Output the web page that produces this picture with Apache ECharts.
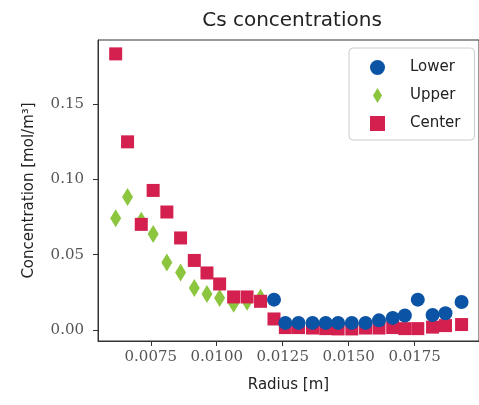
<!DOCTYPE html>
<html><head><meta charset="utf-8">
<script src="https://cdn.jsdelivr.net/npm/echarts@6.0.0/dist/echarts.min.js"></script>
<style>html,body{margin:0;padding:0;background:#fff}#c{width:479px;height:405px}</style>
</head><body><div id="c"></div>
<script>
// Radii (m)
const radiusInner = [0.00617, 0.00662, 0.00714, 0.00759, 0.00811, 0.00863, 0.00915, 0.00963, 0.01011, 0.01064, 0.01115, 0.01166, 0.01217];
const radiusOuter = [0.01217, 0.01260, 0.01310, 0.01363, 0.01413, 0.01460, 0.01512, 0.01564, 0.01615, 0.01667, 0.01713, 0.01762, 0.01818, 0.01867, 0.01928];
// Concentrations (mol/m^3)
const upperConc = [0.0741, 0.0883, 0.0725, 0.0637, 0.0448, 0.0382, 0.0279, 0.0239, 0.0213, 0.0175, 0.0188, 0.0215];
const centerInnerConc = [0.1831, 0.1248, 0.0701, 0.0926, 0.0783, 0.0611, 0.0462, 0.0379, 0.0306, 0.0220, 0.0220, 0.0191, 0.0074];
const centerOuterConc = [0.0017, 0.0017, 0.0014, 0.0010, 0.0008, 0.0008, 0.0014, 0.0014, 0.0017, 0.0010, 0.0010, 0.0020, 0.0030, 0.0037];
const lowerConc = [0.0202, 0.0048, 0.0048, 0.0048, 0.0048, 0.0048, 0.0048, 0.0048, 0.0065, 0.0081, 0.0097, 0.0202, 0.0100, 0.0112, 0.0186];
const xTicks = [0.0075, 0.0100, 0.0125, 0.0150, 0.0175];
const yTicks = [0, 0.05, 0.10, 0.15];

const lowerData = radiusOuter.map((r, i) => [r, lowerConc[i]]);
const upperData = upperConc.map((c, i) => [radiusInner[i], c]);
const centerData = centerInnerConc.map((c, i) => [radiusInner[i], c])
  .concat(centerOuterConc.map((c, i) => [radiusOuter[i + 1], c]));

const SANS = 'DejaVu Sans', SERIF = 'DejaVu Serif';
const chart = echarts.init(document.getElementById('c'), null, {renderer: 'canvas'});
chart.setOption({
  animation: false,
  backgroundColor: '#fff',
  title: {
    text: 'Cs concentrations', left: 287, top: 6, textAlign: 'center',
    textStyle: {fontFamily: SANS, fontSize: 20, fontWeight: 'normal', color: '#222'}
  },
  grid: {left: 98, top: 40, right: -9, bottom: 64, show: true, borderColor: '#333', borderWidth: 1, backgroundColor: 'transparent'},
  legend: {
    orient: 'vertical', left: 349, top: 48,
    padding: [12, 14, 9, 21], itemGap: 13, itemWidth: 15, itemHeight: 15,
    backgroundColor: 'rgba(255,255,255,0.85)', borderColor: '#ccc', borderWidth: 1, borderRadius: 4,
    textStyle: {fontFamily: SANS, fontSize: 15, color: '#222', padding: [0, 0, 0, 20]},
    data: [
      {name: 'Lower', icon: 'circle'},
      {name: 'Upper', icon: 'path://M0,-9L5.5,0L0,9L-5.5,0Z'},
      {name: 'Center', icon: 'rect'}
    ]
  },
  xAxis: {
    type: 'value', min: 0.0055, max: 0.01994,
    name: 'Radius [m]', nameLocation: 'middle', nameGap: 37,
    nameTextStyle: {fontFamily: SANS, fontSize: 15, color: '#222'},
    axisLine: {show: true, onZero: false, lineStyle: {color: '#333', width: 1}},
    axisTick: {show: true, inside: false, length: 5, lineStyle: {color: '#333'}, customValues: xTicks},
    axisLabel: {customValues: xTicks, margin: 9, fontFamily: SERIF, fontSize: 15, color: '#555',
      formatter: v => v.toFixed(4)},
    splitLine: {show: false}
  },
  yAxis: {
    type: 'value', min: -0.0072, max: 0.1923,
    name: 'Concentration [mol/m³]', nameLocation: 'middle', nameGap: 61, nameRotate: 90,
    nameTextStyle: {fontFamily: SANS, fontSize: 15, color: '#222'},
    axisLine: {show: true, onZero: false, lineStyle: {color: '#333', width: 1}},
    axisTick: {show: true, inside: false, length: 5, lineStyle: {color: '#333'}, customValues: yTicks},
    axisLabel: {customValues: yTicks, margin: 14, fontFamily: SERIF, fontSize: 15, color: '#555',
      formatter: v => v.toFixed(2)},
    splitLine: {show: false}
  },
  series: [
    {name: 'Lower', type: 'scatter', data: lowerData, symbol: 'circle', symbolSize: 14, z: 4,
      itemStyle: {color: '#0b53a4', opacity: 1}},
    {name: 'Upper', type: 'scatter', data: upperData, symbol: 'diamond', symbolSize: [11, 18], z: 2,
      itemStyle: {color: '#8cc63f', opacity: 1}},
    {name: 'Center', type: 'scatter', data: centerData, symbol: 'rect', symbolSize: 13, z: 3,
      itemStyle: {color: '#d3204f', opacity: 1}}
  ]
});
</script></body></html>
